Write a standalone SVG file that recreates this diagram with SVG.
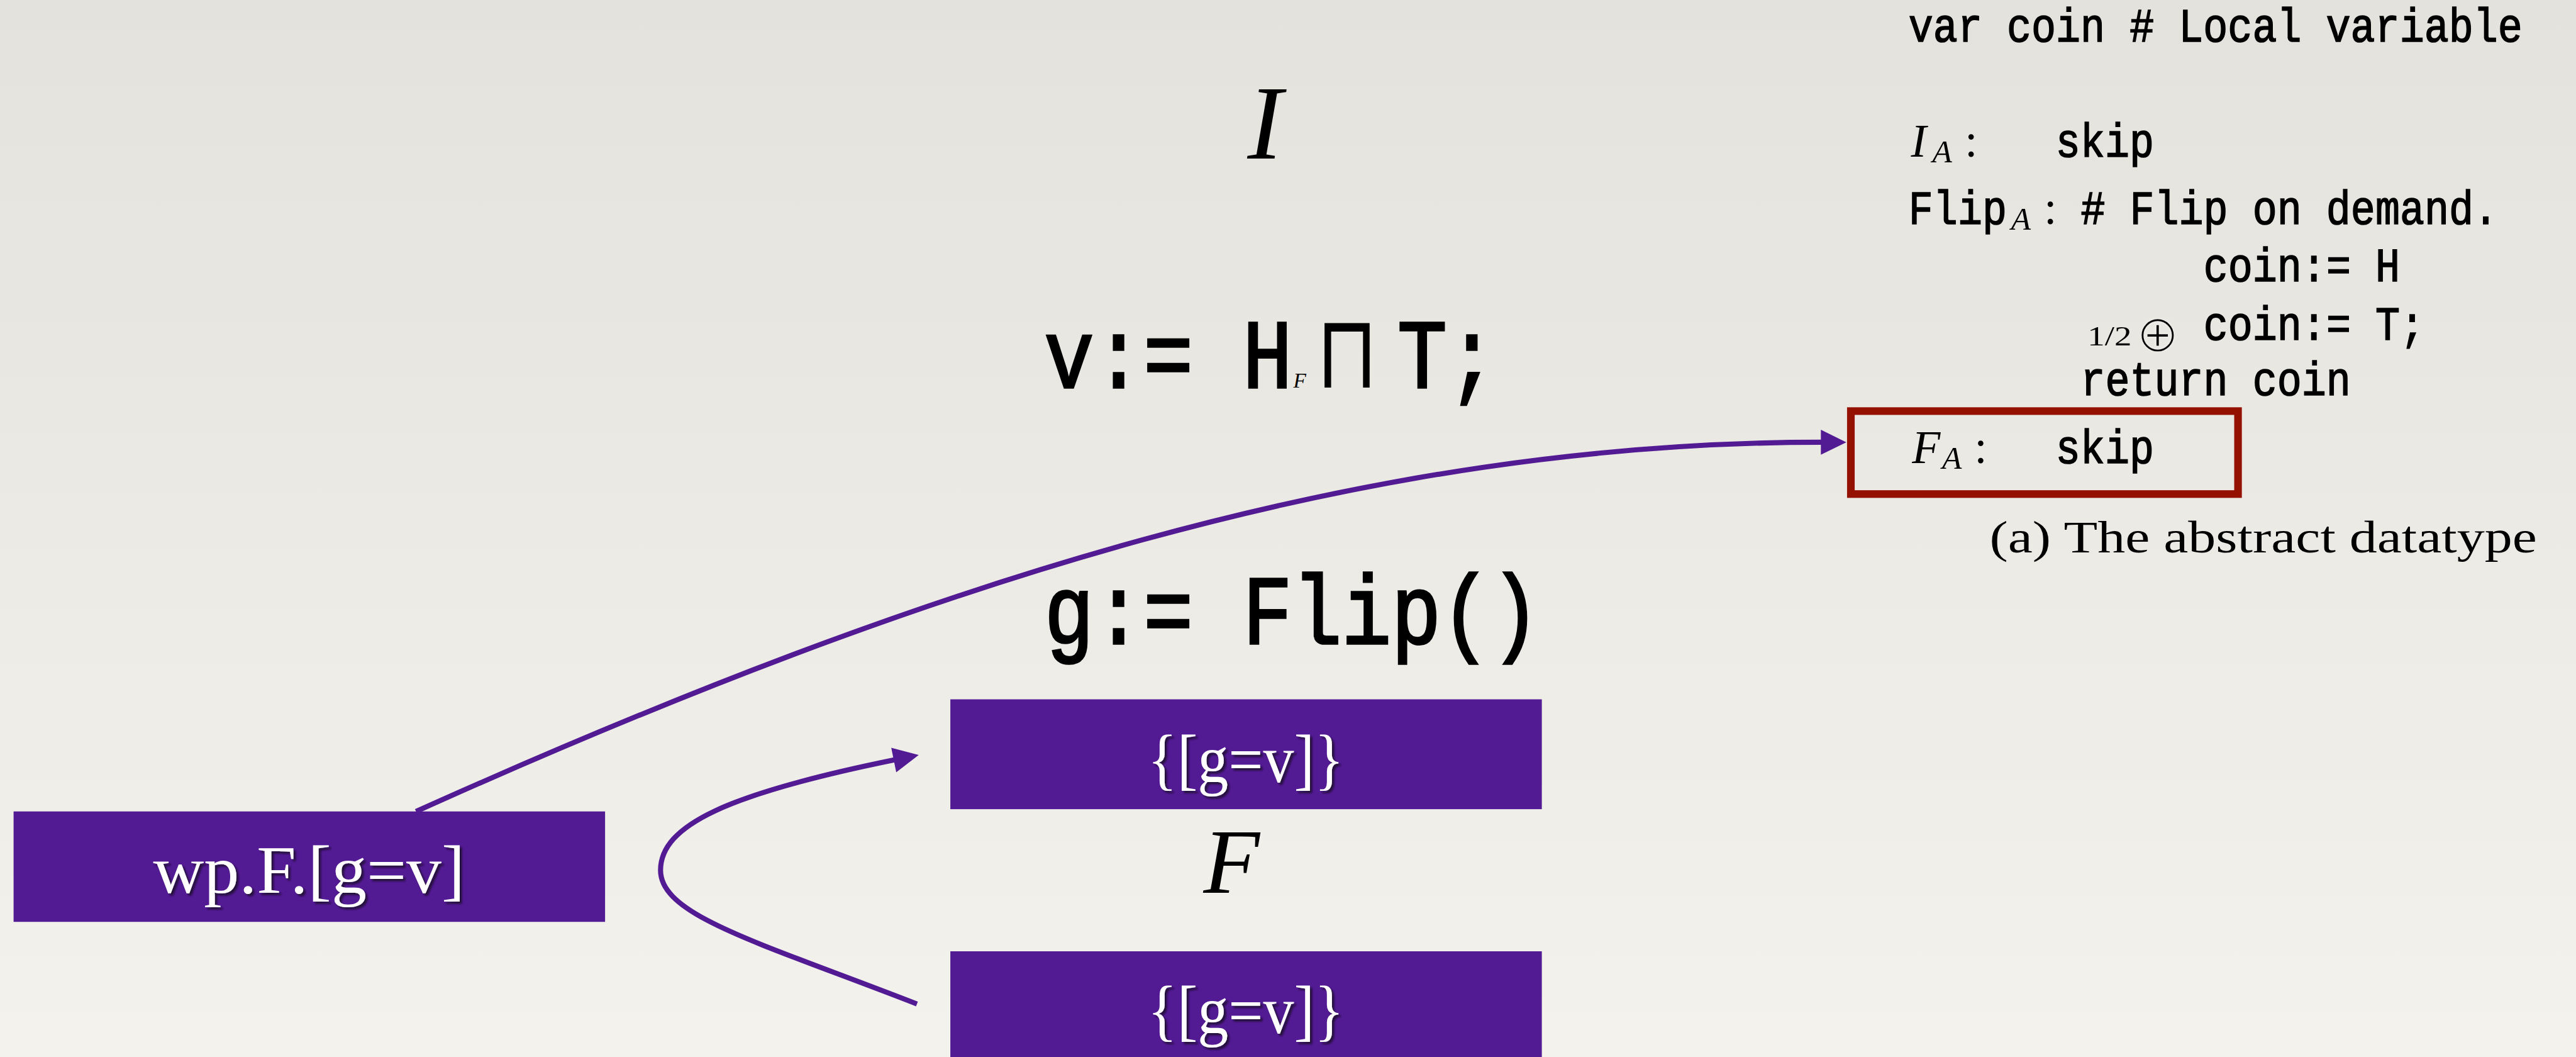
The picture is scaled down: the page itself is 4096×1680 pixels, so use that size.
<svg xmlns="http://www.w3.org/2000/svg" width="4096" height="1680" viewBox="0 0 4096 1680">
<defs>
<linearGradient id="bg" x1="0" y1="0" x2="0" y2="1">
<stop offset="0" stop-color="#e4e2dd"/>
<stop offset="1" stop-color="#f3f2ed"/>
</linearGradient>
<filter id="shadow" x="-10%" y="-20%" width="130%" height="150%">
<feDropShadow dx="4" dy="4" stdDeviation="1.5" flood-color="#1c0f30" flood-opacity="0.9"/>
</filter>
<marker id="arrow" markerUnits="userSpaceOnUse" markerWidth="46" markerHeight="46" refX="1" refY="22" orient="auto" overflow="visible">
<path d="M0,0 L45,22 L0,44 z" fill="#531b93"/>
</marker>
</defs>
<style>
.tt{font-family:"Liberation Mono",monospace;fill:#000;stroke:#000}
.big{font-size:146px;stroke-width:3.5}
.sm{font-size:72.3px;stroke-width:1.6}
.mi{font-family:"Liberation Serif",serif;font-style:italic;fill:#000}
.rm{font-family:"Liberation Serif",serif;fill:#000}
.sym{font-family:"DejaVu Sans",sans-serif;fill:#000}
.box{fill:#531b93}
.lbl{font-family:"Liberation Serif",serif;font-size:120px;fill:#fff;text-anchor:middle;filter:url(#shadow)}
.conn{fill:none;stroke:#531b93;stroke-width:9;marker-end:url(#arrow)}
</style>
<rect x="0" y="0" width="4096" height="1680" fill="url(#bg)"/>
<g transform="scale(0.9)">
<g id="node-I">
<text class="mi" x="2204" y="280" font-size="186">I</text>
</g>
<g id="node-v-assign">
<text class="tt big" transform="translate(1845,684) scale(1,1.18)">v:= H</text>
<text class="mi" x="2285" y="684" font-size="37">F</text>
<text class="sym" transform="translate(2380,684) scale(1,1.3)" font-size="140" text-anchor="middle">⊓</text>
<text class="tt big" transform="translate(2469,684) scale(1,1.18)">T;</text>
</g>
<g id="node-g-assign">
<text class="tt big" transform="translate(1845,1137) scale(1,1.18)">g:= Flip()</text>
</g>
<g id="node-pre">
<rect class="box" x="1679" y="1235" width="1045" height="194"/>
<text class="lbl" x="2201" y="1381" textLength="347" lengthAdjust="spacingAndGlyphs">{[g=v]}</text>
</g>
<g id="node-F">
<text class="mi" x="2126" y="1577" font-size="163">F</text>
</g>
<g id="node-post">
<rect class="box" x="1679" y="1680" width="1045" height="194"/>
<text class="lbl" x="2201" y="1824" textLength="347" lengthAdjust="spacingAndGlyphs">{[g=v]}</text>
</g>
<g id="node-wp">
<rect class="box" x="24" y="1433" width="1045" height="195"/>
<text class="lbl" x="546" y="1577" textLength="551" lengthAdjust="spacingAndGlyphs">wp.F.[g=v]</text>
</g>
<g id="node-abstract">
<text class="tt sm" transform="translate(3372,73) scale(1,1.18)">var coin # Local variable</text>
<text class="mi" x="3376" y="277" font-size="82">I</text>
<text class="mi" x="3414" y="287" font-size="57">A</text>
<text class="rm" x="3471" y="277" font-size="82">:</text>
<text class="tt sm" transform="translate(3632,277) scale(1,1.18)">skip</text>
<text class="tt sm" transform="translate(3372,395) scale(1,1.18)">Flip</text>
<text class="mi" x="3553" y="405" font-size="57">A</text>
<text class="rm" x="3611" y="395" font-size="82">:</text>
<text class="tt sm" transform="translate(3676,395) scale(1,1.18)"># Flip on demand.</text>
<text class="tt sm" transform="translate(3893,497) scale(1,1.18)">coin:= H</text>
<text class="rm" x="3688" y="610" font-size="50" textLength="78" lengthAdjust="spacingAndGlyphs">1/2</text>
<text class="sym" x="3812" y="621" font-size="92" text-anchor="middle" stroke="#ebe9e4" stroke-width="3.5">⊕</text>
<text class="tt sm" transform="translate(3893,600) scale(1,1.18)">coin:= T;</text>
<text class="tt sm" transform="translate(3676,698) scale(1,1.18)">return coin</text>
<text class="rm" x="3515" y="975" font-size="80" textLength="967" lengthAdjust="spacingAndGlyphs">(a) The abstract datatype</text>
</g>
<g id="node-FA">
<rect x="3270" y="726" width="684" height="146.5" fill="none" stroke="#941100" stroke-width="13.5"/>
<text class="mi" x="3378" y="818" font-size="82">F</text>
<text class="mi" x="3431" y="828" font-size="57">A</text>
<text class="rm" x="3488" y="818" font-size="82">:</text>
<text class="tt sm" transform="translate(3632,818) scale(1,1.18)">skip</text>
</g>
<g id="connectors">
<path class="conn" d="M735,1433 C1648,1023 2418,781 3218,781"/>
<path class="conn" d="M1620,1773 C1340,1664 1167,1617 1167,1537 C1167,1457 1286,1402 1580,1342"/>
</g>
</g>
</svg>
